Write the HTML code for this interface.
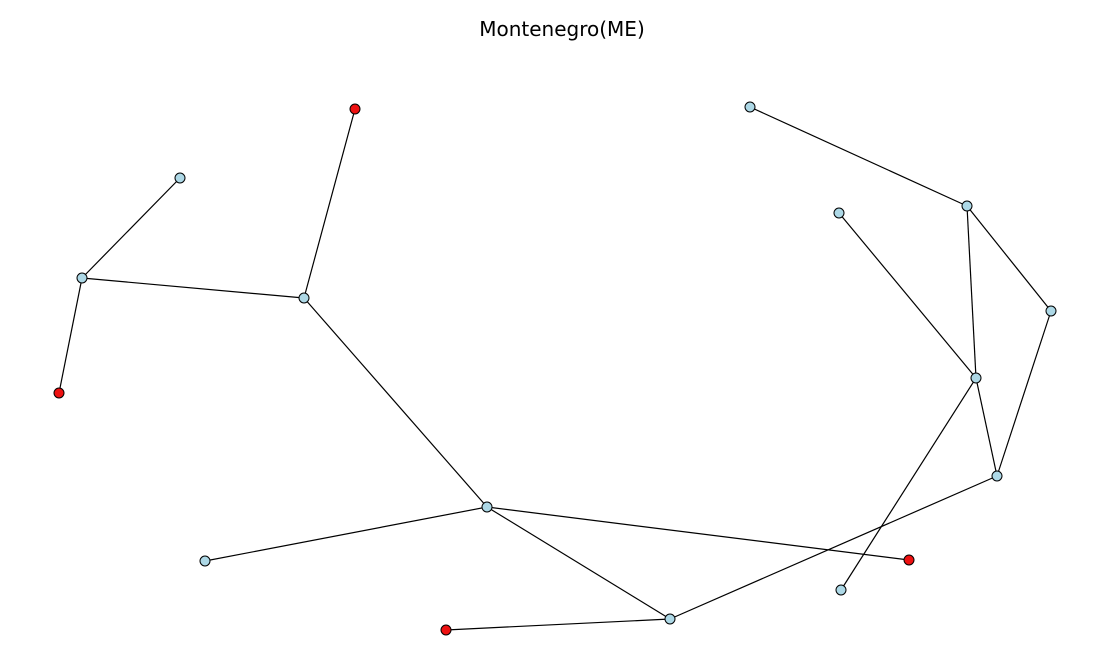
<!DOCTYPE html>
<html><head><meta charset="utf-8"><style>
html,body{margin:0;padding:0;background:#fff;}
svg{display:block;}
</style></head><body>
<svg width="1100" height="650" xmlns="http://www.w3.org/2000/svg">
<text x="562" y="36" text-anchor="middle" font-family="DejaVu Sans, sans-serif" font-size="20" fill="#000">Montenegro(ME)</text>
<g stroke="#000" stroke-width="1.2">
<line x1="355" y1="109" x2="304" y2="298"/>
<line x1="180" y1="178" x2="82" y2="278"/>
<line x1="82" y1="278" x2="304" y2="298"/>
<line x1="82" y1="278" x2="59" y2="393"/>
<line x1="304" y1="298" x2="487" y2="507"/>
<line x1="487" y1="507" x2="205" y2="561"/>
<line x1="487" y1="507" x2="909" y2="560"/>
<line x1="487" y1="507" x2="670" y2="619"/>
<line x1="446" y1="630" x2="670" y2="619"/>
<line x1="670" y1="619" x2="997" y2="476"/>
<line x1="750" y1="107" x2="967" y2="206"/>
<line x1="967" y1="206" x2="976" y2="378"/>
<line x1="967" y1="206" x2="1051" y2="311"/>
<line x1="839" y1="213" x2="976" y2="378"/>
<line x1="976" y1="378" x2="997" y2="476"/>
<line x1="1051" y1="311" x2="997" y2="476"/>
<line x1="976" y1="378" x2="841" y2="590"/>
</g>
<g stroke="#000" stroke-width="1" fill="#add8e6">
<circle cx="180" cy="178" r="5"/>
<circle cx="82" cy="278" r="5"/>
<circle cx="304" cy="298" r="5"/>
<circle cx="487" cy="507" r="5"/>
<circle cx="205" cy="561" r="5"/>
<circle cx="670" cy="619" r="5"/>
<circle cx="750" cy="107" r="5"/>
<circle cx="967" cy="206" r="5"/>
<circle cx="839" cy="213" r="5"/>
<circle cx="1051" cy="311" r="5"/>
<circle cx="976" cy="378" r="5"/>
<circle cx="997" cy="476" r="5"/>
<circle cx="841" cy="590" r="5"/>
</g>
<g stroke="#000" stroke-width="1" fill="#ee1111">
<circle cx="355" cy="109" r="5"/>
<circle cx="59" cy="393" r="5"/>
<circle cx="446" cy="630" r="5"/>
<circle cx="909" cy="560" r="5"/>
</g>
</svg>
</body></html>
